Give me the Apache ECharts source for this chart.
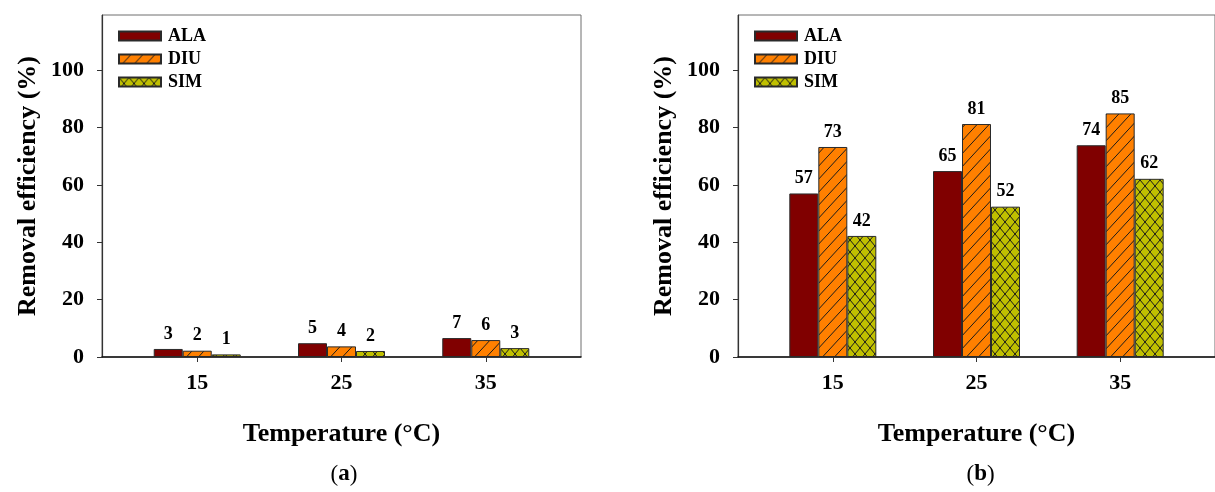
<!DOCTYPE html>
<html>
<head>
<meta charset="utf-8">
<script src="https://cdn.jsdelivr.net/npm/echarts@6/dist/echarts.min.js"></script>
<style>
html,body{margin:0;padding:0;background:#fff;}
#chart{width:1215px;height:492px;}
</style>
</head>
<body>
<div id="chart"></div>
<script>
// ---- data ----
const temperatures = [15, 25, 35];
const tempLabels = ['15', '25', '35'];
const seriesNames = ['ALA', 'DIU', 'SIM'];
// panel (a)
const aALA = [2.8, 4.8, 6.6];
const aDIU = [2.2, 3.7, 5.9];
const aSIM = [0.9, 2.1, 3.1];
// panel (b)
const bALA = [57.0, 64.8, 73.8];
const bDIU = [73.2, 81.2, 84.9];
const bSIM = [42.2, 52.4, 62.1];
const yTicks = [0, 20, 40, 60, 80, 100];
const yTitle = 'Removal efficiency (%)';
const xTitle = 'Temperature (°C)';
const panelTags = ['a', 'b'];

// ---- patterns ----
function stripePattern() {
  const w = 12, h = 13;
  const c = document.createElement('canvas');
  c.width = w; c.height = h;
  const g = c.getContext('2d');
  g.fillStyle = '#FF8000'; g.fillRect(0, 0, w, h);
  g.strokeStyle = '#1a1a1a'; g.lineWidth = 1;
  g.beginPath();
  g.moveTo(0, h); g.lineTo(w, 0);
  g.moveTo(-w, h); g.lineTo(0, 0);
  g.moveTo(w, 2 * h); g.lineTo(2 * w, h);
  g.stroke();
  return { image: c, repeat: 'repeat' };
}
function crossPattern() {
  const w = 10, h = 12;
  const c = document.createElement('canvas');
  c.width = w; c.height = h;
  const g = c.getContext('2d');
  g.fillStyle = '#C0C000'; g.fillRect(0, 0, w, h);
  g.strokeStyle = '#1a1a1a'; g.lineWidth = 1;
  g.beginPath();
  g.moveTo(0, 0); g.lineTo(w, h);
  g.moveTo(w, 0); g.lineTo(0, h);
  g.stroke();
  return { image: c, repeat: 'repeat' };
}
const fills = ['#800000', stripePattern(), crossPattern()];

const FONT = '"Liberation Serif", "Times New Roman", serif';
const X_MIN = 8.4, X_MAX = 41.6;

const panels = [
  { left: 102, data: [aALA, aDIU, aSIM] },
  { left: 738, data: [bALA, bDIU, bSIM] }
];

const grids = [], xAxes = [], yAxes = [], series = [], legends = [], graphics = [];
panels.forEach((p, i) => {
  grids.push({
    left: p.left, top: 15, width: 479, height: 342,
    show: true, borderColor: '#6e6e6e', borderWidth: 1, backgroundColor: 'transparent'
  });
  xAxes.push({
    gridIndex: i, type: 'value', min: X_MIN, max: X_MAX,
    splitLine: { show: false },
    axisLine: { show: true, onZero: false, lineStyle: { color: '#111', width: 1.5 } },
    axisTick: { show: true, inside: false, length: 5, customValues: temperatures, lineStyle: { color: '#333' } },
    axisLabel: {
      customValues: temperatures,
      formatter: v => tempLabels[temperatures.indexOf(v)] ?? '',
      fontFamily: FONT, fontWeight: 'bold', fontSize: 22, color: '#000', margin: 15
    },
    name: xTitle, nameLocation: 'middle', nameGap: 64,
    nameTextStyle: { fontFamily: FONT, fontWeight: 'bold', fontSize: 26, color: '#000' }
  });
  yAxes.push({
    gridIndex: i, type: 'value', min: 0, max: 119.2,
    splitLine: { show: false },
    axisLine: { show: true, lineStyle: { color: '#333', width: 1.2 } },
    axisTick: { show: true, length: 5, customValues: yTicks, lineStyle: { color: '#333' } },
    axisLabel: {
      customValues: yTicks,
      fontFamily: FONT, fontWeight: 'bold', fontSize: 22, color: '#000', margin: 18
    },
    name: yTitle, nameLocation: 'middle', nameGap: 61, nameRotate: 90,
    nameTextStyle: { fontFamily: FONT, fontWeight: 'bold', fontSize: 26, color: '#000' }
  });
  seriesNames.forEach((nm, k) => {
    series.push({
      type: 'bar', name: nm, xAxisIndex: i, yAxisIndex: i,
      barWidth: 29, barGap: '0%',
      data: temperatures.map((t, j) => [t, p.data[k][j]]),
      itemStyle: { color: fills[k], borderColor: '#2a2a2a', borderWidth: 1 },
      label: {
        show: true, position: 'top', distance: 6,
        formatter: q => String(Math.round(q.value[1])),
        fontFamily: FONT, fontWeight: 'bold', fontSize: 18, color: '#000'
      },
      emphasis: { disabled: true }
    });
  });
  legends.push({
    left: p.left + 11, top: 22, orient: 'vertical',
    data: seriesNames, itemWidth: 42, itemHeight: 9, itemGap: 5,
    icon: 'rect',
    textStyle: { fontFamily: FONT, fontWeight: 'bold', fontSize: 18, color: '#000', padding: [0, 0, 0, 2] },
    selectedMode: false
  });
  graphics.push({
    type: 'text', left: p.left + 239.5 - 11, top: 463,
    style: {
      text: '{p|(}{b|' + panelTags[i] + '}{p|)}',
      rich: {
        p: { fontFamily: FONT, fontSize: 23, color: '#000' },
        b: { fontFamily: FONT, fontSize: 23, fontWeight: 'bold', color: '#000' }
      }
    }
  });
});

const chart = echarts.init(document.getElementById('chart'), null, { renderer: 'canvas' });
chart.setOption({
  animation: false,
  backgroundColor: '#fff',
  grid: grids, xAxis: xAxes, yAxis: yAxes, series: series,
  legend: legends, graphic: graphics
});
</script>
</body>
</html>
